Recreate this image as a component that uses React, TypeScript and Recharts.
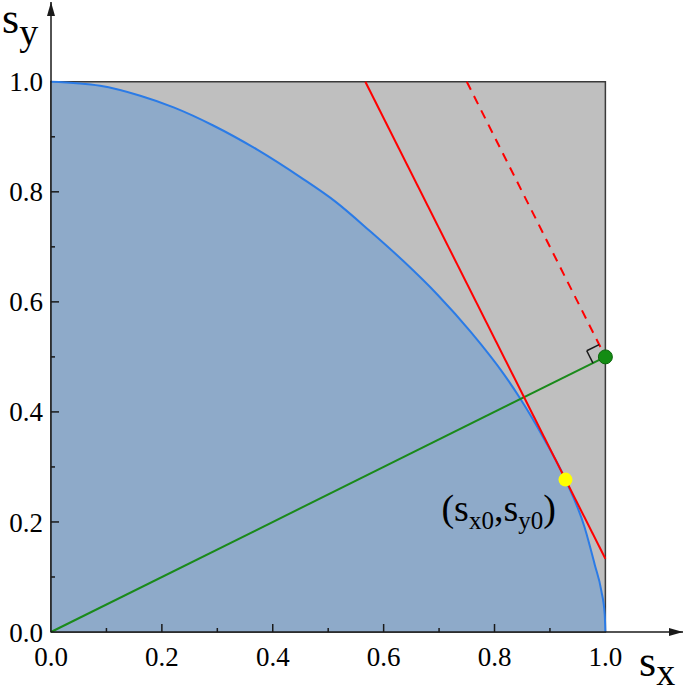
import React from 'react';
import { ComposedChart, Area, Scatter, XAxis, YAxis, ReferenceArea, ReferenceLine, ReferenceDot } from 'recharts';

// boundary curve
const curveX = [0, 0.0886, 0.161, 0.2212, 0.2935, 0.372, 0.4503, 0.513, 0.5763, 0.6365, 0.6968, 0.7571, 0.8174, 0.8466, 0.8897, 0.928, 0.9626, 0.9807, 0.9928, 0.9988, 1.0];
const curveY = [1.0, 0.9927, 0.9746, 0.9534, 0.9201, 0.8766, 0.8263, 0.7822, 0.7278, 0.6733, 0.6135, 0.5455, 0.4678, 0.424, 0.3505, 0.277, 0.19, 0.1228, 0.0744, 0.0321, 0];
const curve = curveX.map((x, i) => ({ x, y: curveY[i] }));

const axisTicks = [0, 0.2, 0.4, 0.6, 0.8, 1.0];
const majorMarks = [0.2, 0.4, 0.6, 0.8];
const minorMarks = [0.1, 0.3, 0.5, 0.7, 0.9];

const tangentLine = [{ x: 0.567, y: 1.0 }, { x: 1.0, y: 0.133 }];
const shiftedLine = [{ x: 0.75, y: 1.0 }, { x: 1.0, y: 0.5 }];
const normalLine = [{ x: 0, y: 0 }, { x: 1.0, y: 0.5 }];
const rightAngle = [{ x: 0.9888, y: 0.5224 }, { x: 0.9664, y: 0.5112 }, { x: 0.9776, y: 0.4888 }];
const tangentPoint = { x: 0.928, y: 0.277 };
const targetPoint = { x: 1.0, y: 0.5 };

const xMax = 1.14;
const yMax = 1.145;

const serif = 'Liberation Serif';
const ink = '#1a1a1a';

const xMarkShape = (len: number) => (p: any) => (
  <line x1={p.cx} y1={p.cy} x2={p.cx} y2={p.cy - len} stroke={ink} strokeWidth={1.5} />
);
const yMarkShape = (len: number) => (p: any) => (
  <line x1={p.cx} y1={p.cy} x2={p.cx + len} y2={p.cy} stroke={ink} strokeWidth={1.5} />
);

const xArrow = (p: any) => (
  <g>
    <polygon points={`${p.cx},${p.cy} ${p.cx - 14},${p.cy - 4} ${p.cx - 14},${p.cy + 4}`} fill={ink} />
    <text x={p.cx - 44} y={p.cy + 44} fontFamily={serif} fontSize={44} fill="#000">
      s<tspan fontSize={38} dy={9}>x</tspan>
    </text>
  </g>
);

const yArrow = (p: any) => (
  <g>
    <polygon points={`${p.cx},${p.cy} ${p.cx - 4},${p.cy + 14} ${p.cx + 4},${p.cy + 14}`} fill={ink} />
    <text x={p.cx - 49} y={p.cy + 31} fontFamily={serif} fontSize={44} fill="#000">
      s<tspan fontSize={38} dy={12}>y</tspan>
    </text>
  </g>
);

const tangentDot = (p: any) => (
  <g>
    <circle cx={p.cx} cy={p.cy} r={7} fill="#ffff00" />
    <text x={p.cx - 124} y={p.cy + 41} fontFamily={serif} fontSize={38} fill="#000">
      (s<tspan fontSize={25} dy={8}>x0</tspan>
      <tspan dy={-8}>,s</tspan>
      <tspan fontSize={25} dy={8}>y0</tspan>
      <tspan dy={-8}>)</tspan>
    </text>
  </g>
);

const fmt = (v: number) => v.toFixed(1);
const tickStyle = { fontSize: 27, fill: '#000', fontFamily: serif };

export default function App() {
  return (
    <div style={{ position: 'absolute', left: 0, top: 0 }}>
      <ComposedChart width={685} height={691} data={curve} margin={{ top: 2, right: 2, left: 0, bottom: 0 }}>
        <XAxis
          dataKey="x"
          type="number"
          domain={[0, xMax]}
          allowDataOverflow
          ticks={axisTicks}
          tickFormatter={fmt}
          height={59}
          tickLine={false}
          tickSize={0}
          tickMargin={15}
          axisLine={{ stroke: ink, strokeWidth: 1.5 }}
          tick={tickStyle}
        />
        <YAxis
          type="number"
          domain={[0, yMax]}
          allowDataOverflow
          ticks={axisTicks}
          tickFormatter={fmt}
          width={51}
          tickLine={false}
          tickSize={0}
          tickMargin={8}
          axisLine={{ stroke: ink, strokeWidth: 1.5 }}
          tick={tickStyle}
        />
        <ReferenceArea x1={0} x2={1} y1={0} y2={1} fill="#bfbfbf" fillOpacity={1} stroke="#3a3a3a" strokeWidth={1.5} />
        <Area
          dataKey="y"
          type="monotone"
          fill="#8eaac9"
          fillOpacity={1}
          stroke="#2b7be6"
          strokeWidth={2}
          isAnimationActive={false}
        />
        <ReferenceLine segment={normalLine} stroke="#1a8a1a" strokeWidth={2} />
        <ReferenceLine segment={tangentLine} stroke="#ff0000" strokeWidth={2} />
        <ReferenceLine segment={shiftedLine} stroke="#ff0000" strokeWidth={2} strokeDasharray="9 7" />
        <ReferenceLine segment={[rightAngle[0], rightAngle[1]]} stroke={ink} strokeWidth={1.5} />
        <ReferenceLine segment={[rightAngle[1], rightAngle[2]]} stroke={ink} strokeWidth={1.5} />
        <Scatter data={majorMarks.map((v) => ({ x: v, y: 0 }))} dataKey="y" shape={xMarkShape(8)} isAnimationActive={false} />
        <Scatter data={minorMarks.map((v) => ({ x: v, y: 0 }))} dataKey="y" shape={xMarkShape(4)} isAnimationActive={false} />
        <Scatter data={majorMarks.map((v) => ({ x: 0, y: v }))} dataKey="y" shape={yMarkShape(8)} isAnimationActive={false} />
        <Scatter data={minorMarks.map((v) => ({ x: 0, y: v }))} dataKey="y" shape={yMarkShape(4)} isAnimationActive={false} />
        <ReferenceDot x={targetPoint.x} y={targetPoint.y} r={7} fill="#138c13" stroke="#0b650b" strokeWidth={1} ifOverflow="visible" />
        <ReferenceDot x={tangentPoint.x} y={tangentPoint.y} shape={tangentDot} ifOverflow="visible" />
        <ReferenceDot x={xMax} y={0} shape={xArrow} ifOverflow="visible" />
        <ReferenceDot x={0} y={yMax} shape={yArrow} ifOverflow="visible" />
      </ComposedChart>
    </div>
  );
}
